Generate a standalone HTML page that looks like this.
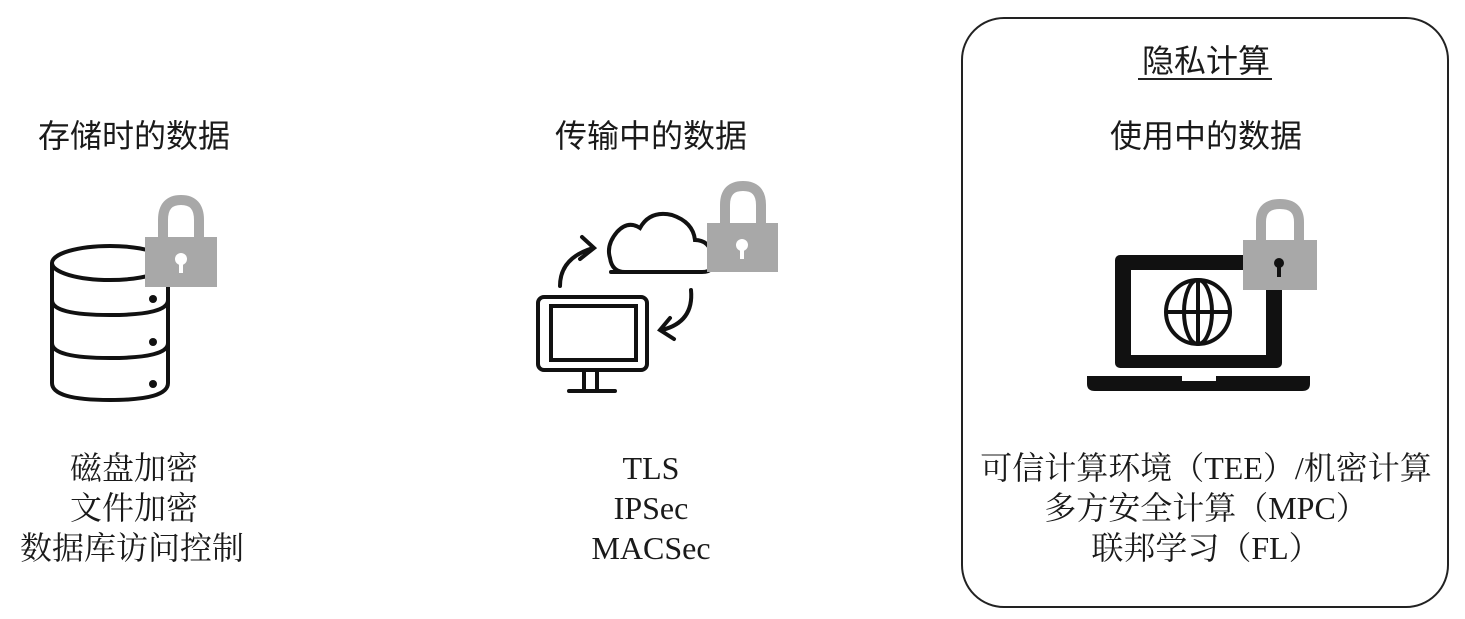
<!DOCTYPE html>
<html><head><meta charset="utf-8"><style>
html,body{margin:0;padding:0;background:#fff;}
svg{display:block}
.h{font-family:"Liberation Sans","Noto Sans CJK SC",sans-serif;font-size:32px;fill:#1a1a1a;text-anchor:middle}
.l{font-family:"Liberation Serif","Noto Serif CJK SC",serif;font-size:32px;fill:#1a1a1a;text-anchor:middle}
</style></head><body>
<svg width="1465" height="619" viewBox="0 0 1465 619" xmlns="http://www.w3.org/2000/svg">
<rect x="962" y="18" width="486" height="589" rx="42" fill="none" stroke="#222" stroke-width="2"/>
<text class="h" x="1206" y="72" style="font-size:32px">隐私计算</text>
<line x1="1138" y1="79" x2="1272" y2="79" stroke="#222" stroke-width="2"/>
<text class="h" x="134" y="147">存储时的数据</text>
<text class="h" x="651" y="147">传输中的数据</text>
<text class="h" x="1206" y="147">使用中的数据</text>

<!-- database -->
<g fill="none" stroke="#111" stroke-width="4">
<ellipse cx="110" cy="263" rx="58" ry="17"/>
<path d="M52 263 V383 Q52 400 110 400 Q168 400 168 383 V263"/>
<path d="M52 300 Q52 315 110 315 Q168 315 168 300"/>
<path d="M52 343 Q52 358 110 358 Q168 358 168 343"/>
</g>
<circle cx="153" cy="299" r="4" fill="#111"/>
<circle cx="153" cy="342" r="4" fill="#111"/>
<circle cx="153" cy="384" r="4" fill="#111"/>
<path d="M163 238 V220 Q163 200 181 200 Q199 200 199 220 V238" fill="none" stroke="#a8a8a8" stroke-width="10"/>
<rect x="145" y="237" width="72" height="50" fill="#a8a8a8"/>
<circle cx="181" cy="259" r="6" fill="#fff"/><rect x="179" y="259" width="4" height="14" fill="#fff"/>

<!-- transit -->
<g fill="none" stroke="#111" stroke-width="4" stroke-linecap="round">
<rect x="538" y="297" width="109" height="73" rx="6"/>
<rect x="551" y="306" width="85" height="54"/>
<path d="M584 370 V390 M597 370 V390 M569 391 H615"/>
<path d="M611 272 H702 Q716 272 713 258 Q710 240 695 240 Q693 222 672 215 Q650 210 640 228 Q628 220 617 232 Q606 245 610 258 Q612 272 625 272"/>
<path d="M560 286 Q560 258 593 248 M582 237 L594 248 L580 259"/>
<path d="M691 290 Q694 322 662 330 M670 318 L660 330 L674 339"/>
</g>
<path d="M725 224 V205 Q725 186 743 186 Q761 186 761 205 V224" fill="none" stroke="#a8a8a8" stroke-width="10"/>
<rect x="707" y="223" width="71" height="49" fill="#a8a8a8"/>
<circle cx="742" cy="245" r="6" fill="#fff"/><rect x="740" y="245" width="4" height="14" fill="#fff"/>

<!-- laptop -->
<rect x="1115" y="255" width="167" height="113" rx="5" fill="#111"/>
<rect x="1131" y="270" width="135" height="85" fill="#fff"/>
<path d="M1087 376 H1182 V381 H1216 V376 H1310 V384 Q1310 391 1302 391 H1095 Q1087 391 1087 384 Z" fill="#111"/>
<g fill="none" stroke="#111" stroke-width="4">
<circle cx="1198" cy="312" r="32"/>
<ellipse cx="1198" cy="312" rx="14" ry="32"/>
<path d="M1198 280 V344 M1166 312 H1230"/>
</g>
<path d="M1261 242 V222 Q1261 204 1280 204 Q1299 204 1299 222 V242" fill="none" stroke="#a8a8a8" stroke-width="10"/>
<rect x="1243" y="240" width="74" height="50" fill="#a8a8a8"/>
<circle cx="1279" cy="263" r="5" fill="#111"/><rect x="1277" y="263" width="4" height="14" fill="#111"/>

<!-- lists -->
<text class="l" x="134" y="479">磁盘加密</text>
<text class="l" x="134" y="519">文件加密</text>
<text class="l" x="132" y="559">数据库访问控制</text>
<text class="l" x="651" y="479">TLS</text>
<text class="l" x="651" y="519">IPSec</text>
<text class="l" x="651" y="559">MACSec</text>
<text class="l" x="1206" y="479">可信计算环境（TEE）/机密计算</text>
<text class="l" x="1206" y="519">多方安全计算（MPC）</text>
<text class="l" x="1206" y="559">联邦学习（FL）</text>
</svg>
</body></html>
